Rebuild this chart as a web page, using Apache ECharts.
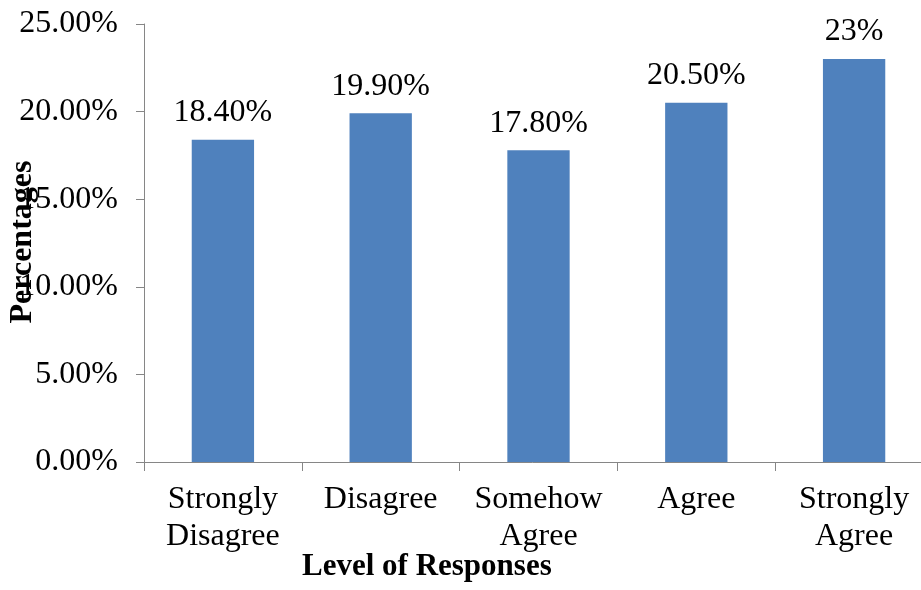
<!DOCTYPE html>
<html>
<head>
<meta charset="utf-8">
<script src="https://cdn.jsdelivr.net/npm/echarts@6/dist/echarts.min.js"></script>
<style>
  html, body { margin: 0; padding: 0; background: #ffffff; }
  #chart { width: 921px; height: 590px; }
</style>
</head>
<body>
<div id="chart"></div>
<script>
// Response levels and the share of respondents at each level (percent)
const categories = ['Strongly\nDisagree', 'Disagree', 'Somehow\nAgree', 'Agree', 'Strongly\nAgree'];
const percentages = [18.4, 19.9, 17.8, 20.5, 23];
const yTicks = { min: 0, max: 25, step: 5 };

const FONT = '"Liberation Serif", "Times New Roman", serif';
const AXIS_GREY = '#868686';

const chart = echarts.init(document.getElementById('chart'), null, { renderer: 'canvas' });

// Whole numbers read "23%", others keep two decimals ("18.40%")
const fmtValue = v => (Number.isInteger(v) ? v : v.toFixed(2)) + '%';

chart.setOption({
  animation: false,
  backgroundColor: '#ffffff',
  // the plot runs slightly past the right edge of the canvas
  grid: {
    left: 144, width: 789, top: 24, bottom: 128,
    containLabel: false,
    outerBoundsMode: 'none'
  },
  xAxis: {
    type: 'category',
    data: categories,
    axisLine: { lineStyle: { color: AXIS_GREY, width: 1 } },
    axisTick: { show: true, length: 9, lineStyle: { color: AXIS_GREY } },
    axisLabel: {
      color: '#000000',
      fontFamily: FONT,
      fontSize: 32,
      lineHeight: 37,
      margin: 19,
      interval: 0
    },
    splitLine: { show: false }
  },
  yAxis: {
    type: 'value',
    min: yTicks.min,
    max: yTicks.max,
    interval: yTicks.step,
    axisLine: { show: true, lineStyle: { color: AXIS_GREY, width: 1 } },
    axisTick: { show: true, length: 8, lineStyle: { color: AXIS_GREY } },
    axisLabel: {
      color: '#000000',
      fontFamily: FONT,
      fontSize: 32,
      margin: 26,
      formatter: v => v.toFixed(2) + '%'
    },
    splitLine: { show: false }
  },
  series: [{
    type: 'bar',
    data: percentages,
    barWidth: '39.5%',
    itemStyle: { color: '#4F81BD' },
    label: {
      show: true,
      position: 'top',
      distance: 11,
      color: '#000000',
      fontFamily: FONT,
      fontSize: 32,
      formatter: p => fmtValue(p.value)
    }
  }],
  graphic: [
    {
      type: 'text',
      left: 302,
      top: 551,
      z: 100,
      style: {
        text: 'Level of Responses',
        fontFamily: FONT,
        fontWeight: 'bold',
        fontSize: 31,
        fill: '#000000'
      }
    },
    {
      type: 'text',
      x: 23,
      y: 242,
      rotation: Math.PI / 2,
      z: 100,
      style: {
        text: 'Percentages',
        fontFamily: FONT,
        fontWeight: 'bold',
        fontSize: 32,
        fill: '#000000',
        align: 'center',
        verticalAlign: 'middle'
      }
    }
  ]
});
</script>
</body>
</html>
